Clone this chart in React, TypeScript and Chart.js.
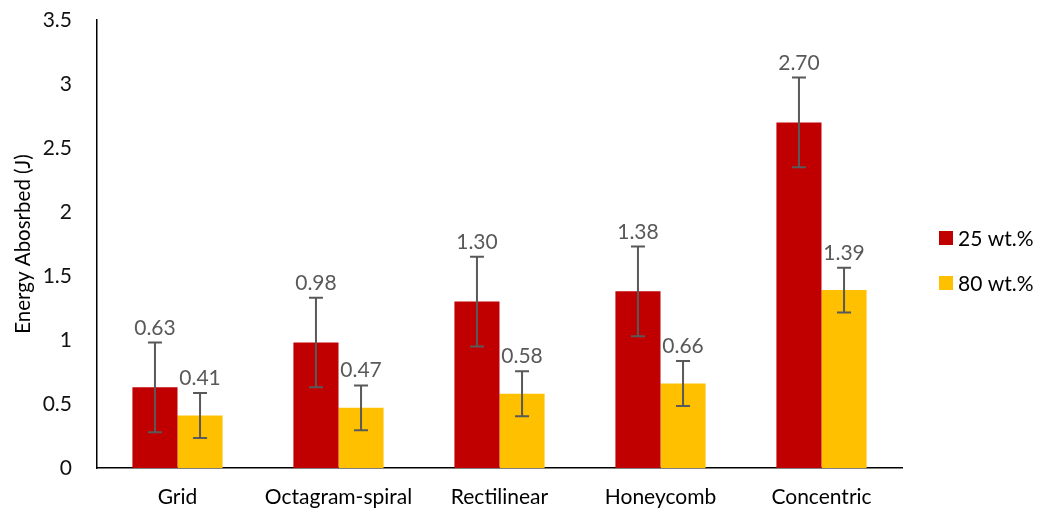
import React, { useEffect, useRef } from "react";
import { Chart, registerables } from "chart.js";

Chart.register(...registerables);

const categories = ["Grid", "Octagram-spiral", "Rectilinear", "Honeycomb", "Concentric"];
const series25 = [0.63, 0.98, 1.3, 1.38, 2.7];
const series80 = [0.41, 0.47, 0.58, 0.66, 1.39];
const err25 = [0.35, 0.35, 0.35, 0.35, 0.35];
const err80 = [0.175, 0.175, 0.175, 0.175, 0.175];
const seriesNames = ["25 wt.%", "80 wt.%"];
const yTicks = [0, 0.5, 1, 1.5, 2, 2.5, 3, 3.5];

const FONT = "Lato, 'Open Sans', sans-serif";

const errorLabelPlugin = {
  id: "errorLabels",
  afterDatasetsDraw(chart: any) {
    const ctx = chart.ctx;
    const y = chart.scales.y;
    chart.data.datasets.forEach((ds: any, di: number) => {
      const meta = chart.getDatasetMeta(di);
      meta.data.forEach((bar: any, i: number) => {
        const v = ds.data[i];
        const e = ds.errors[i];
        const x = bar.x;
        const yt = y.getPixelForValue(v + e);
        const yb = y.getPixelForValue(v - e);
        ctx.save();
        ctx.strokeStyle = "#595959";
        ctx.lineWidth = 2;
        ctx.beginPath();
        ctx.moveTo(x, yt);
        ctx.lineTo(x, yb);
        ctx.moveTo(x - 7, yt);
        ctx.lineTo(x + 7, yt);
        ctx.moveTo(x - 7, yb);
        ctx.lineTo(x + 7, yb);
        ctx.stroke();
        ctx.fillStyle = "#595959";
        ctx.font = `21px ${FONT}`;
        ctx.textAlign = "center";
        ctx.textBaseline = "alphabetic";
        ctx.fillText(v.toFixed(2), x, yt - 8);
        ctx.restore();
      });
    });
  },
};

const legendPlugin = {
  id: "customLegend",
  afterDraw(chart: any) {
    const ctx = chart.ctx;
    const startY = 238;
    const gap = 45;
    chart.data.datasets.forEach((ds: any, di: number) => {
      const cy = startY + di * gap;
      ctx.save();
      ctx.fillStyle = ds.backgroundColor;
      ctx.fillRect(939, cy - 7, 14, 14);
      ctx.fillStyle = "#000";
      ctx.font = `21px ${FONT}`;
      ctx.textAlign = "left";
      ctx.textBaseline = "middle";
      ctx.fillText(ds.label, 958, cy + 1);
      ctx.restore();
    });
  },
};

export default function App() {
  const ref = useRef<HTMLCanvasElement>(null);
  useEffect(() => {
    if (!ref.current) return;
    const chart = new Chart(ref.current, {
      type: "bar",
      data: {
        labels: categories,
        datasets: [
          {
            label: seriesNames[0],
            data: series25,
            errors: err25,
            backgroundColor: "#C00000",
            borderWidth: 0,
          } as any,
          {
            label: seriesNames[1],
            data: series80,
            errors: err80,
            backgroundColor: "#FFC000",
            borderWidth: 0,
          } as any,
        ],
      },
      options: {
        responsive: false,
        animation: false,
        layout: { padding: { left: 0, right: 138, top: 20, bottom: 0 } },
        plugins: { legend: { display: false }, tooltip: { enabled: false } },
        datasets: { bar: { categoryPercentage: 0.56, barPercentage: 1 } },
        scales: {
          x: {
            grid: { display: false, drawTicks: false },
            border: { display: true, color: "#000", width: 1.5 },
            ticks: { color: "#000", font: { family: FONT, size: 21 }, padding: 17 },
            afterFit: (s: any) => {
              s.height = 43;
              s.paddingLeft = 0;
              s.paddingRight = 0;
            },
          },
          y: {
            min: 0,
            max: 3.5,
            afterBuildTicks: (s: any) => {
              s.ticks = yTicks.map((v) => ({ value: v }));
            },
            grid: { display: false, drawTicks: false },
            border: { display: true, color: "#000", width: 1.5 },
            ticks: {
              color: "#111",
              font: { family: FONT, size: 21 },
              padding: 25,
              callback: (v: any) => String(v),
            },
            title: {
              display: true,
              text: "Energy Abosrbed (J)",
              color: "#000",
              font: { family: FONT, size: 20.5 },
              padding: { top: 11, bottom: 0 },
            },
            afterFit: (s: any) => {
              s.width = 97;
              s.paddingTop = 0;
              s.paddingBottom = 0;
            },
          },
        },
      },
      plugins: [errorLabelPlugin, legendPlugin],
    });
    return () => chart.destroy();
  }, []);
  return (
    <div style={{ position: "absolute", left: 0, top: 0, width: 1040, height: 511, background: "#fff" }}>
      <canvas ref={ref} width={1040} height={511} />
    </div>
  );
}
